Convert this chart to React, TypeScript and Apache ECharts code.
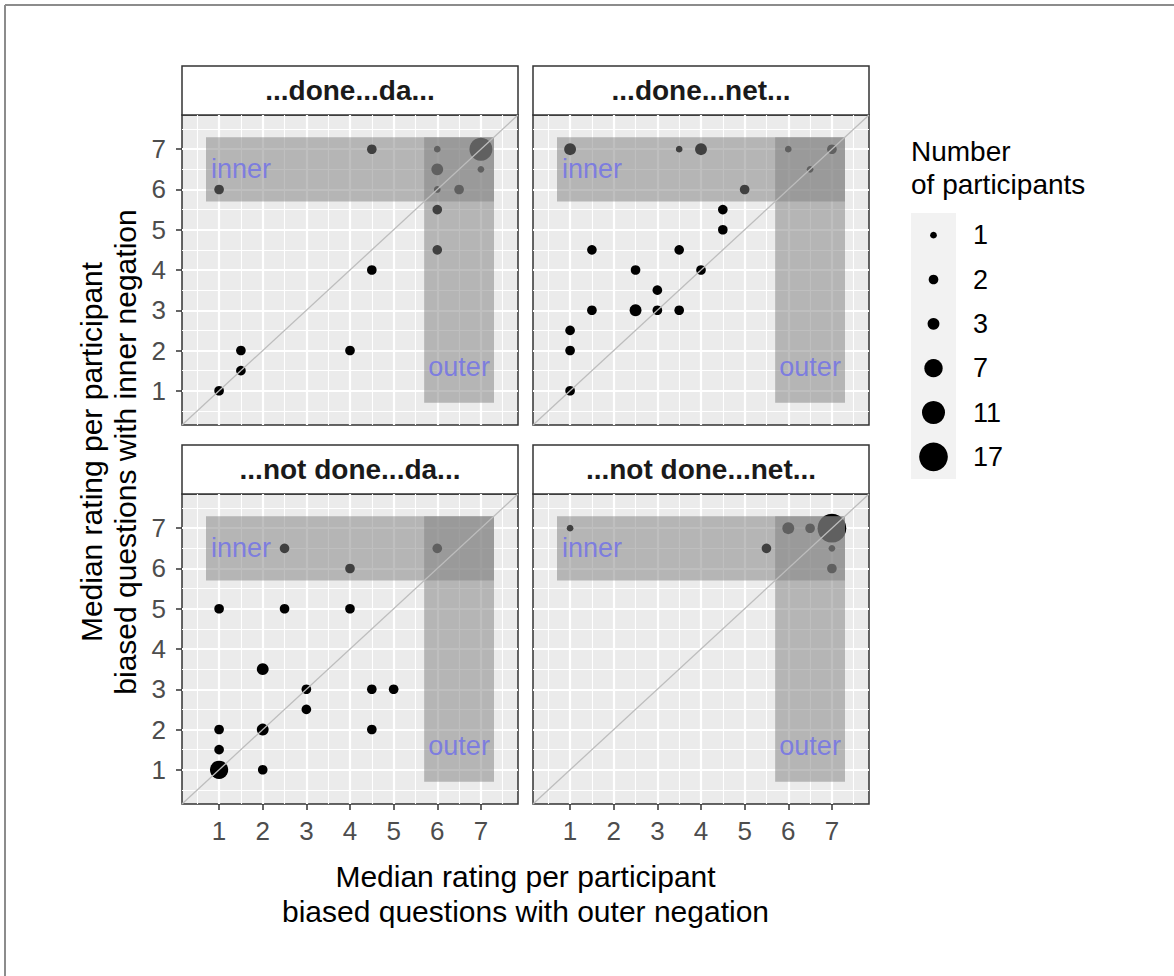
import React, { useEffect, useRef } from 'react';
import * as echarts from 'echarts';

// ---------- data ----------
const panelTitles = ['...done...da...', '...done...net...', '...not done...da...', '...not done...net...'];

// panel 1: ...done...da...
const doneDaOuter = [4.5, 6, 7, 7, 6, 1, 6, 6.5, 6, 6, 4.5, 1.5, 4, 1.5, 1];
const doneDaInner = [7, 7, 7, 6.5, 6.5, 6, 6, 6, 5.5, 4.5, 4, 2, 2, 1.5, 1];
const doneDaCount = [2, 1, 11, 1, 3, 2, 1, 2, 2, 2, 2, 2, 2, 2, 2];

// panel 2: ...done...net...
const doneNetOuter = [1, 3.5, 4, 6, 7, 6.5, 5, 4.5, 4.5, 1.5, 3.5, 2.5, 4, 3, 1.5, 2.5, 3, 3.5, 1, 1, 1];
const doneNetInner = [7, 7, 7, 7, 7, 6.5, 6, 5.5, 5, 4.5, 4.5, 4, 4, 3.5, 3, 3, 3, 3, 2.5, 2, 1];
const doneNetCount = [3, 1, 3, 1, 2, 1, 2, 2, 2, 2, 2, 2, 2, 2, 2, 3, 2, 2, 2, 2, 2];

// panel 3: ...not done...da...
const notDoneDaOuter = [2.5, 6, 4, 1, 2.5, 4, 2, 3, 4.5, 5, 3, 1, 2, 4.5, 1, 1, 2];
const notDoneDaInner = [6.5, 6.5, 6, 5, 5, 5, 3.5, 3, 3, 3, 2.5, 2, 2, 2, 1.5, 1, 1];
const notDoneDaCount = [2, 2, 2, 2, 2, 2, 3, 2, 2, 2, 2, 2, 3, 2, 2, 7, 2];

// panel 4: ...not done...net...
const notDoneNetOuter = [1, 5.5, 6, 6.5, 7, 7, 7];
const notDoneNetInner = [7, 6.5, 7, 7, 7, 6.5, 6];
const notDoneNetCount = [1, 2, 3, 2, 17, 1, 2];

const panelOuter = [doneDaOuter, doneNetOuter, notDoneDaOuter, notDoneNetOuter];
const panelInner = [doneDaInner, doneNetInner, notDoneDaInner, notDoneNetInner];
const panelCount = [doneDaCount, doneNetCount, notDoneDaCount, notDoneNetCount];

const tickValues = [1, 2, 3, 4, 5, 6, 7];
const minorBreaks = [0.5, 1.5, 2.5, 3.5, 4.5, 5.5, 6.5, 7.5];
const axisLimits = [0.15, 7.85];

const innerRegionX = [0.7, 7.3];
const innerRegionY = [5.7, 7.3];
const outerRegionX = [5.7, 7.3];
const outerRegionY = [0.7, 7.3];
const regionLabels = ['inner', 'outer'];
const innerLabelPos = [1.5, 6.5];
const outerLabelPos = [6.5, 1.6];

const sizeBreaks = [1, 2, 3, 7, 11, 17];

const xTitle = ['Median rating per participant', 'biased questions with outer negation'];
const yTitle = ['Median rating per participant', 'biased questions with inner negation'];
const legendTitle = ['Number', 'of participants'];

// ---------- layout ----------
const FONT = '"Liberation Sans", Arial, Helvetica, sans-serif';
const cols = [
  { left: 182, width: 336 },
  { left: 533, width: 336 },
];
const rows = [
  { top: 115, height: 310 },
  { top: 494, height: 310 },
];
const STRIP_H = 49;

const pointSize = (n: number) => 7.05 * Math.sqrt(n) - 0.35;

export default function App() {
  const ref = useRef<HTMLDivElement>(null);

  useEffect(() => {
    document.body.style.margin = '0';
    const chart = echarts.init(ref.current!, undefined, { renderer: 'svg' });

    const grids: any[] = [];
    const xAxes: any[] = [];
    const yAxes: any[] = [];
    const series: any[] = [];
    const graphics: any[] = [];

    for (let i = 0; i < 4; i++) {
      const r = Math.floor(i / 2);
      const c = i % 2;
      const col = cols[c];
      const row = rows[r];
      grids.push({
        left: col.left,
        top: row.top,
        width: col.width,
        height: row.height,
        show: true,
        backgroundColor: '#EBEBEB',
        borderColor: '#333333',
        borderWidth: 1.5,
        containLabel: false,
      });
      xAxes.push({
        gridIndex: i,
        type: 'value',
        min: axisLimits[0],
        max: axisLimits[1],
        axisLine: { show: false },
        axisTick: {
          show: r === 1,
          customValues: tickValues,
          length: 6,
          lineStyle: { color: '#333333', width: 1.5 },
        },
        axisLabel: {
          show: r === 1,
          customValues: tickValues,
          fontSize: 26,
          color: '#4D4D4D',
          margin: 14,
          fontFamily: FONT,
        },
        splitLine: { show: false },
      });
      yAxes.push({
        gridIndex: i,
        type: 'value',
        min: axisLimits[0],
        max: axisLimits[1],
        axisLine: { show: false },
        axisTick: {
          show: c === 0,
          customValues: tickValues,
          length: 6,
          lineStyle: { color: '#333333', width: 1.5 },
        },
        axisLabel: {
          show: c === 0,
          customValues: tickValues,
          fontSize: 26,
          color: '#4D4D4D',
          margin: 16,
          fontFamily: FONT,
        },
        splitLine: { show: false },
      });

      const gridLineData: any[] = [];
      minorBreaks.forEach((v) => {
        gridLineData.push({ xAxis: v, lineStyle: { color: '#FFFFFF', width: 1.1, type: 'solid', opacity: 1 } });
        gridLineData.push({ yAxis: v, lineStyle: { color: '#FFFFFF', width: 1.1, type: 'solid', opacity: 1 } });
      });
      tickValues.forEach((v) => {
        gridLineData.push({ xAxis: v, lineStyle: { color: '#FFFFFF', width: 2.2, type: 'solid', opacity: 1 } });
        gridLineData.push({ yAxis: v, lineStyle: { color: '#FFFFFF', width: 2.2, type: 'solid', opacity: 1 } });
      });

      series.push({
        type: 'line',
        xAxisIndex: i,
        yAxisIndex: i,
        data: [],
        z: 1,
        silent: true,
        markLine: {
          z: 1,
          silent: true,
          symbol: 'none',
          label: { show: false },
          emphasis: { disabled: true },
          data: gridLineData,
        },
      });

      const xs = panelOuter[i];
      const ys = panelInner[i];
      const ns = panelCount[i];
      series.push({
        type: 'scatter',
        xAxisIndex: i,
        yAxisIndex: i,
        data: xs.map((x, k) => [x, ys[k], ns[k]]),
        symbol: 'circle',
        symbolSize: (v: number[]) => pointSize(v[2]),
        itemStyle: { color: '#000000', opacity: 1 },
        z: 2,
        silent: true,
      });

      series.push({
        type: 'line',
        xAxisIndex: i,
        yAxisIndex: i,
        data: [],
        z: 3,
        silent: true,
        markArea: {
          z: 3,
          silent: true,
          itemStyle: { color: 'rgba(127,127,127,0.5)' },
          emphasis: { disabled: true },
          data: [
            [{ coord: [innerRegionX[0], innerRegionY[0]] }, { coord: [innerRegionX[1], innerRegionY[1]] }],
            [{ coord: [outerRegionX[0], outerRegionY[0]] }, { coord: [outerRegionX[1], outerRegionY[1]] }],
          ],
        },
      });

      series.push({
        type: 'line',
        xAxisIndex: i,
        yAxisIndex: i,
        data: [
          [axisLimits[0], axisLimits[0]],
          [axisLimits[1], axisLimits[1]],
        ],
        symbol: 'none',
        lineStyle: { color: '#BDBDBD', width: 1.3 },
        z: 4,
        silent: true,
      });

      series.push({
        type: 'scatter',
        xAxisIndex: i,
        yAxisIndex: i,
        data: [
          [innerLabelPos[0], innerLabelPos[1], regionLabels[0]],
          [outerLabelPos[0], outerLabelPos[1], regionLabels[1]],
        ],
        symbolSize: 1,
        itemStyle: { color: 'rgba(0,0,0,0)' },
        label: {
          show: true,
          position: 'inside',
          formatter: (p: any) => p.value[2],
          color: '#6E6EEA',
          fontSize: 27,
          fontFamily: FONT,
        },
        z: 5,
        silent: true,
      });

      graphics.push({
        type: 'group',
        children: [
          {
            type: 'rect',
            shape: { x: col.left, y: row.top - STRIP_H, width: col.width, height: STRIP_H },
            style: { fill: '#FFFFFF', stroke: '#333333', lineWidth: 1.5 },
          },
          {
            type: 'text',
            x: col.left + col.width / 2,
            y: row.top - STRIP_H / 2,
            style: {
              text: panelTitles[i],
              fontSize: 28,
              fontWeight: 'bold',
              fontFamily: FONT,
              fill: '#1A1A1A',
              textAlign: 'center',
              textVerticalAlign: 'middle',
            },
          },
        ],
      });
    }

    // legend grid
    grids.push({
      left: 911,
      top: 213,
      width: 45,
      height: 266,
      show: true,
      backgroundColor: '#F2F2F2',
      borderWidth: 0,
      containLabel: false,
    });
    xAxes.push({ gridIndex: 4, type: 'value', min: -1, max: 1, show: false });
    yAxes.push({
      gridIndex: 4,
      type: 'category',
      data: sizeBreaks.map(String),
      inverse: true,
      position: 'right',
      axisLine: { show: false },
      axisTick: { show: false },
      splitLine: { show: false },
      axisLabel: { margin: 17, fontSize: 27, color: '#000000', fontFamily: FONT },
    });
    series.push({
      type: 'scatter',
      xAxisIndex: 4,
      yAxisIndex: 4,
      data: sizeBreaks.map((b, k) => [0, k, b]),
      symbol: 'circle',
      symbolSize: (v: number[]) => pointSize(v[2]),
      itemStyle: { color: '#000000', opacity: 1 },
      silent: true,
    });

    const panelCenterX = (cols[0].left + cols[1].left + cols[1].width) / 2;
    const titleText = (text: string, x: number, y: number, rot: number) => ({
      type: 'text',
      x,
      y,
      rotation: rot,
      style: {
        text,
        fontSize: 30,
        fontFamily: FONT,
        fill: '#000000',
        textAlign: 'center',
        textVerticalAlign: 'middle',
      },
    });
    graphics.push(titleText(xTitle[0], panelCenterX, 876, 0));
    graphics.push(titleText(xTitle[1], panelCenterX, 911, 0));
    graphics.push(titleText(yTitle[0], 91, 452, Math.PI / 2));
    graphics.push(titleText(yTitle[1], 125, 452, Math.PI / 2));

    legendTitle.forEach((t, k) => {
      graphics.push({
        type: 'text',
        x: 911,
        y: 151 + k * 33,
        style: {
          text: t,
          fontSize: 28,
          fontFamily: FONT,
          fill: '#000000',
          textAlign: 'left',
          textVerticalAlign: 'middle',
        },
      });
    });

    // outer frame
    graphics.push({
      type: 'line',
      shape: { x1: 5, y1: 5, x2: 1174, y2: 5 },
      style: { stroke: '#8C8C8C', lineWidth: 2 },
    });
    graphics.push({
      type: 'line',
      shape: { x1: 5, y1: 5, x2: 5, y2: 976 },
      style: { stroke: '#8C8C8C', lineWidth: 2 },
    });

    chart.setOption({
      animation: false,
      backgroundColor: '#FFFFFF',
      textStyle: { fontFamily: FONT },
      grid: grids,
      xAxis: xAxes,
      yAxis: yAxes,
      series,
      graphic: graphics,
    });

    return () => {
      chart.dispose();
    };
  }, []);

  return <div ref={ref} style={{ width: 1174, height: 976 }} />;
}
